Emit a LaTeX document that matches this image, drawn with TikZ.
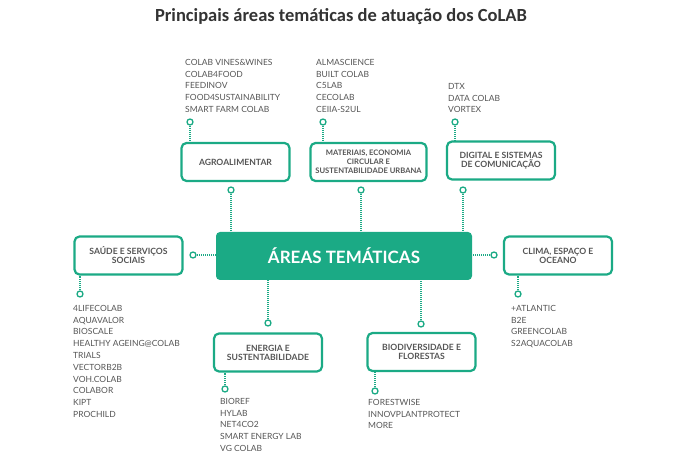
\documentclass[tikz,border=0pt]{standalone}
\usepackage{fontspec}
\setmainfont{Lato}
\newfontfamily\titlefont{Carlito}
\definecolor{colabgreen}{HTML}{1BAA85}
\definecolor{colabgray}{HTML}{555555}
\tikzset{
  areabox/.style={draw=colabgreen, line width=2.2pt, rounded corners=5pt, fill=white,
    minimum width=108pt, minimum height=38pt, align=center, inner sep=1pt,
    text=colabgray, font=\bfseries\fontsize{8.6}{9}\selectfont},
  hub/.style={fill=colabgreen, rounded corners=4pt, minimum width=256pt, minimum height=48pt,
    text=white, font=\bfseries\fontsize{17}{20}\selectfont},
  knob/.style={circle, draw=colabgreen, line width=1.3pt, fill=white, inner sep=0pt, minimum size=6pt},
  link/.style={draw=colabgreen, line width=1.2pt, dash pattern=on 0.9pt off 1.1pt},
  members/.style={anchor=north west, align=left, inner sep=0pt, text=colabgray,
    font=\fontsize{8.5}{11.8}\selectfont}
}
\begin{document}
\begin{tikzpicture}[x=1pt,y=-1pt]
\useasboundingbox (0,0) rectangle (675,465);
% titulo
\node[font=\titlefont\bfseries\fontsize{18.5}{22}\selectfont, text=black!80] (title) at (341,17) {Principais áreas temáticas de atuação dos CoLAB};

% centro
\node[hub] (hub) at (344,256) {ÁREAS TEMÁTICAS};

% linha de cima
\node[areabox] (agro) at (235.5,162) {AGROALIMENTAR};
\node[areabox, minimum width=116pt, font=\bfseries\fontsize{7.6}{9}\selectfont] (mat) at (368.5,162) {MATERIAIS, ECONOMIA\\CIRCULAR E\\SUSTENTABILIDADE URBANA};
\node[areabox] (dig) at (501,160.5) {DIGITAL E SISTEMAS\\DE COMUNICAÇÃO};

% linha do meio
\node[areabox] (saude) at (128.5,255.5) {SAÚDE E SERVIÇOS\\SOCIAIS};
\node[areabox] (clima) at (558,255.5) {CLIMA, ESPAÇO E\\OCEANO};

% linha de baixo
\node[areabox] (energia) at (268,352.5) {ENERGIA E\\SUSTENTABILIDADE};
\node[areabox] (bio) at (421.5,352) {BIODIVERSIDADE E\\FLORESTAS};

% listas de CoLAB
\node[members] (agrolist) at (185,59) {COLAB VINES\&WINES\\COLAB4FOOD\\FEEDINOV\\FOOD4SUSTAINABILITY\\SMART FARM COLAB};
\node[members] (matlist) at (316,59) {ALMASCIENCE\\BUILT COLAB\\C5LAB\\CECOLAB\\CEIIA-S2UL};
\node[members] (diglist) at (448,83) {DTX\\DATA COLAB\\VORTEX};
\node[members] (saudelist) at (73,305) {4LIFECOLAB\\AQUAVALOR\\BIOSCALE\\HEALTHY AGEING@COLAB\\TRIALS\\VECTORB2B\\VOH.COLAB\\COLABOR\\KIPT\\PROCHILD};
\node[members] (climalist) at (511,305) {+ATLANTIC\\B2E\\GREENCOLAB\\S2AQUACOLAB};
\node[members] (energialist) at (220,398) {BIOREF\\HYLAB\\NET4CO2\\SMART ENERGY LAB\\VG COLAB};
\node[members] (biolist) at (368,399) {FORESTWISE\\INNOVPLANTPROTECT\\MORE};

% ligacoes
\draw[link] (190,122) coordinate (agroT) -- (agroT |- agro.north);
\draw[link] (323,122) coordinate (matT) -- (matT |- mat.north);
\draw[link] (455,122) coordinate (digT) -- (digT |- dig.north);
\draw[link] (231,190) coordinate (agroB) -- (agroB |- hub.north);
\draw[link] (361,190) coordinate (matB) -- (matB |- hub.north);
\draw[link] (463,190) coordinate (digB) -- (digB |- hub.north);
\draw[link] (193,255) coordinate (saudeR) -- (saudeR -| hub.west);
\draw[link] (80,294) coordinate (saudeB) -- (saudeB |- saude.south);
\draw[link] (494,255) coordinate (climaL) -- (climaL -| hub.east);
\draw[link] (518,294) coordinate (climaB) -- (climaB |- clima.south);
\draw[link] (268,323) coordinate (energiaT) -- (energiaT |- hub.south);
\draw[link] (225,389) coordinate (energiaB) -- (energiaB |- energia.south);
\draw[link] (421,324) coordinate (bioT) -- (bioT |- hub.south);
\draw[link] (375,391) coordinate (bioB) -- (bioB |- bio.south);

% circulos
\foreach \c in {agroT,matT,digT,agroB,matB,digB,saudeR,saudeB,climaL,climaB,energiaT,energiaB,bioT,bioB}
  \node[knob] at (\c) {};
\end{tikzpicture}
\end{document}
